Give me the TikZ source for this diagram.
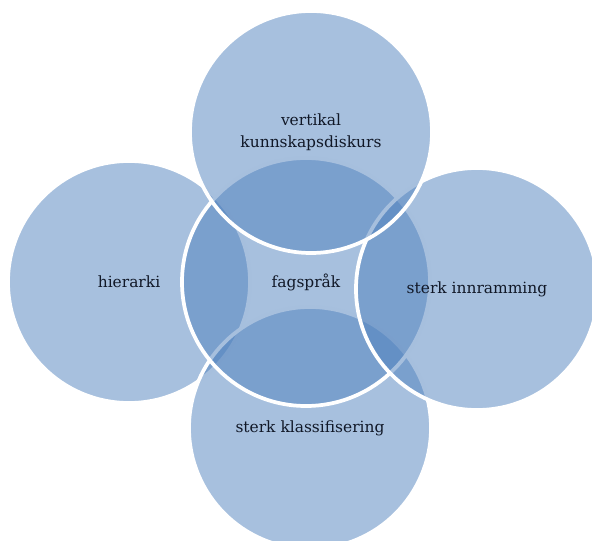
\documentclass[tikz,border=0pt]{standalone}
\usepackage{fontspec}
\setmainfont{DejaVu Serif}
\definecolor{vennblue}{HTML}{4F81BD}
\definecolor{venntext}{HTML}{111827}

\begin{document}
\begin{tikzpicture}[x=0.75pt, y=-0.75pt,
        venn/.style={circle, draw=white, line width=2.8pt, fill=vennblue, fill opacity=0.5, text opacity=1, text=venntext, inner sep=0pt, minimum size=181.5pt, align=center, font=\fontsize{11.6}{16.5}\selectfont}]
        \useasboundingbox (0,0) rectangle (592,541);
        \node (hierarki) [venn] at (129,282) {hierarki};
        \node (klassifisering) [venn] at (310,428) {sterk klassifisering};
        \node (fagsprak) [venn, minimum size=186pt] at (306,282) {fagspråk};
        \node (innramming) [venn] at (477,289) {sterk innramming};
        \node (vertikal) [venn] at (311,132) {vertikal\\kunnskapsdiskurs};
    \end{tikzpicture}
\end{document}
